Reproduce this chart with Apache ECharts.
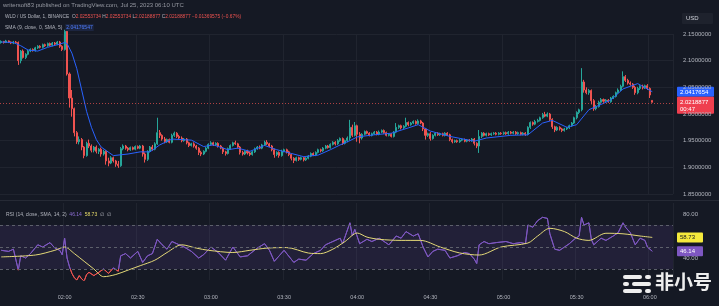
<!DOCTYPE html>
<html><head><meta charset="utf-8">
<script src="https://cdn.jsdelivr.net/npm/echarts@6/dist/echarts.min.js"></script>
<style>html,body{margin:0;padding:0;background:#151924;}#c{width:719px;height:306px;}</style>
</head><body><div id="c"></div>
<script>
// ---- data (1-minute candles, WLD/USD) ----
const startMinute = 94;        // 01:34
const categoryCount = 276;     // 01:34 .. 06:09
const tickLabels = ['02:00','02:30','03:00','03:30','04:00','04:30','05:00','05:30','06:00'];
const priceTicks = [1.85, 2.15, 0.05];
const opens = [
2.134,2.136,2.134,2.137,2.135,2.133,2.135,2.134,2.100,2.118,
2.106,2.112,2.118,2.121,2.119,2.124,2.127,2.125,2.130,2.128,
2.132,2.129,2.133,2.131,2.135,2.127,2.121,2.155,2.075,2.030,
2.010,1.965,1.948,1.952,1.938,1.922,1.945,1.940,1.932,1.938,
1.930,1.934,1.925,1.930,1.912,1.908,1.918,1.912,1.906,1.903,
1.935,1.940,1.936,1.933,1.937,1.934,1.939,1.936,1.940,1.925,
1.915,1.930,1.938,1.934,1.944,1.965,1.960,1.953,1.948,1.952,
1.947,1.960,1.964,1.958,1.955,1.950,1.953,1.946,1.941,1.944,
1.940,1.936,1.928,1.925,1.930,1.936,1.943,1.946,1.942,1.945,
1.940,1.936,1.929,1.926,1.935,1.941,1.946,1.944,1.938,1.928,
1.925,1.930,1.927,1.924,1.929,1.935,1.938,1.936,1.942,1.947,
1.944,1.940,1.933,1.924,1.928,1.922,1.930,1.933,1.929,1.924,
1.917,1.913,1.918,1.915,1.918,1.914,1.917,1.921,1.926,1.923,
1.928,1.933,1.931,1.936,1.940,1.937,1.943,1.947,1.944,1.950,
1.954,1.945,1.950,1.955,1.975,1.960,1.978,1.962,1.955,1.962,
1.967,1.964,1.960,1.963,1.966,1.962,1.966,1.969,1.965,1.960,
1.962,1.958,1.966,1.975,1.978,1.974,1.977,1.984,1.980,1.983,
1.986,1.982,1.987,1.983,1.972,1.960,1.963,1.954,1.960,1.964,
1.961,1.963,1.960,1.964,1.961,1.952,1.948,1.950,1.948,1.951,
1.952,1.949,1.951,1.950,1.953,1.945,1.940,1.958,1.964,1.960,
1.963,1.961,1.963,1.964,1.962,1.964,1.963,1.965,1.963,1.966,
1.964,1.966,1.963,1.965,1.962,1.964,1.962,1.975,1.984,1.981,
1.986,1.988,1.993,1.999,1.996,2.000,1.990,1.976,1.970,1.975,
1.972,1.969,1.972,1.974,1.978,1.983,1.993,2.003,2.008,2.060,
2.045,2.040,2.044,2.025,2.010,2.014,2.022,2.027,2.024,2.026,
2.023,2.030,2.033,2.040,2.045,2.052,2.070,2.063,2.058,2.056,
2.050,2.040,2.048,2.052,2.049,2.053,2.048,2.0255];
const closes = [
2.136,2.134,2.137,2.135,2.133,2.135,2.134,2.100,2.118,2.106,
2.112,2.118,2.121,2.119,2.124,2.127,2.125,2.130,2.128,2.132,
2.129,2.133,2.131,2.135,2.127,2.121,2.155,2.075,2.030,2.010,
1.965,1.948,1.952,1.938,1.922,1.945,1.940,1.932,1.938,1.930,
1.934,1.925,1.930,1.912,1.908,1.918,1.912,1.906,1.903,1.935,
1.940,1.936,1.933,1.937,1.934,1.939,1.936,1.940,1.925,1.915,
1.930,1.938,1.934,1.944,1.965,1.960,1.953,1.948,1.952,1.947,
1.960,1.964,1.958,1.955,1.950,1.953,1.946,1.941,1.944,1.940,
1.936,1.928,1.925,1.930,1.936,1.943,1.946,1.942,1.945,1.940,
1.936,1.929,1.926,1.935,1.941,1.946,1.944,1.938,1.928,1.925,
1.930,1.927,1.924,1.929,1.935,1.938,1.936,1.942,1.947,1.944,
1.940,1.933,1.924,1.928,1.922,1.930,1.933,1.929,1.924,1.917,
1.913,1.918,1.915,1.918,1.914,1.917,1.921,1.926,1.923,1.928,
1.933,1.931,1.936,1.940,1.937,1.943,1.947,1.944,1.950,1.954,
1.945,1.950,1.955,1.975,1.960,1.978,1.962,1.955,1.962,1.967,
1.964,1.960,1.963,1.966,1.962,1.966,1.969,1.965,1.960,1.962,
1.958,1.966,1.975,1.978,1.974,1.977,1.984,1.980,1.983,1.986,
1.982,1.987,1.983,1.972,1.960,1.963,1.954,1.960,1.964,1.961,
1.963,1.960,1.964,1.961,1.952,1.948,1.950,1.948,1.951,1.952,
1.949,1.951,1.950,1.953,1.945,1.940,1.958,1.964,1.960,1.963,
1.961,1.963,1.964,1.962,1.964,1.963,1.965,1.963,1.966,1.964,
1.966,1.963,1.965,1.962,1.964,1.962,1.975,1.984,1.981,1.986,
1.988,1.993,1.999,1.996,2.000,1.990,1.976,1.970,1.975,1.972,
1.969,1.972,1.974,1.978,1.983,1.993,2.003,2.008,2.060,2.045,
2.040,2.044,2.025,2.010,2.014,2.022,2.027,2.024,2.026,2.023,
2.030,2.033,2.040,2.045,2.052,2.070,2.063,2.058,2.056,2.050,
2.040,2.048,2.052,2.049,2.053,2.048,2.0356,2.0219];
const highs = [
2.138,2.137,2.139,2.138,2.136,2.137,2.137,2.136,2.120,2.121,
2.114,2.120,2.123,2.123,2.126,2.129,2.129,2.132,2.132,2.134,
2.134,2.135,2.135,2.137,2.137,2.129,2.158,2.157,2.078,2.045,
2.012,1.968,1.958,1.955,1.940,1.948,1.952,1.943,1.940,1.941,
1.936,1.937,1.933,1.932,1.918,1.921,1.920,1.914,1.912,1.938,
1.943,1.942,1.938,1.939,1.939,1.941,1.941,1.942,1.942,1.928,
1.932,1.940,1.942,1.947,1.993,1.970,1.962,1.957,1.954,1.954,
1.963,1.967,1.966,1.961,1.958,1.955,1.955,1.948,1.946,1.947,
1.942,1.938,1.931,1.932,1.938,1.945,1.949,1.948,1.947,1.947,
1.942,1.938,1.931,1.937,1.943,1.948,1.950,1.946,1.940,1.931,
1.932,1.933,1.930,1.931,1.937,1.940,1.941,1.944,1.950,1.951,
1.946,1.942,1.935,1.930,1.930,1.933,1.935,1.935,1.931,1.926,
1.919,1.920,1.920,1.920,1.920,1.919,1.923,1.928,1.928,1.930,
1.935,1.935,1.938,1.942,1.942,1.945,1.949,1.949,1.953,1.956,
1.956,1.952,1.958,1.989,1.980,1.985,1.980,1.966,1.964,1.969,
1.969,1.966,1.965,1.968,1.968,1.969,1.971,1.971,1.967,1.964,
1.964,1.968,1.983,1.980,1.980,1.979,1.993,1.986,1.985,1.988,
1.988,1.990,1.989,1.985,1.974,1.965,1.966,1.962,1.966,1.966,
1.965,1.965,1.966,1.966,1.963,1.954,1.952,1.952,1.953,1.954,
1.954,1.953,1.953,1.955,1.955,1.947,1.970,1.966,1.966,1.965,
1.965,1.965,1.966,1.966,1.966,1.966,1.967,1.967,1.968,1.968,
1.968,1.968,1.967,1.967,1.966,1.966,1.977,1.986,1.986,1.989,
1.991,1.995,2.002,2.004,2.003,2.002,1.992,1.978,1.977,1.977,
1.974,1.974,1.976,1.980,1.985,1.995,2.005,2.010,2.086,2.064,
2.050,2.047,2.046,2.028,2.017,2.025,2.030,2.029,2.028,2.028,
2.032,2.035,2.042,2.048,2.055,2.080,2.073,2.066,2.061,2.058,
2.053,2.051,2.054,2.055,2.055,2.056,2.050,2.0255];
const lows = [
2.132,2.132,2.133,2.133,2.131,2.131,2.132,2.092,2.095,2.104,
2.103,2.110,2.116,2.117,2.117,2.122,2.123,2.123,2.126,2.126,
2.127,2.127,2.129,2.129,2.124,2.118,2.119,2.072,2.012,1.995,
1.958,1.944,1.943,1.932,1.917,1.920,1.936,1.928,1.928,1.926,
1.925,1.920,1.922,1.905,1.902,1.906,1.909,1.901,1.899,1.901,
1.932,1.933,1.930,1.931,1.932,1.932,1.934,1.934,1.920,1.909,
1.912,1.928,1.931,1.932,1.942,1.955,1.950,1.945,1.946,1.945,
1.945,1.957,1.955,1.952,1.947,1.948,1.943,1.938,1.939,1.937,
1.933,1.923,1.921,1.923,1.928,1.934,1.941,1.940,1.940,1.937,
1.934,1.925,1.922,1.924,1.933,1.939,1.942,1.935,1.924,1.922,
1.923,1.924,1.921,1.922,1.927,1.933,1.934,1.934,1.940,1.942,
1.938,1.930,1.918,1.921,1.918,1.920,1.928,1.926,1.921,1.913,
1.908,1.911,1.912,1.913,1.911,1.912,1.915,1.919,1.921,1.921,
1.926,1.928,1.929,1.934,1.935,1.935,1.941,1.941,1.942,1.948,
1.942,1.943,1.947,1.950,1.957,1.958,1.948,1.945,1.952,1.960,
1.962,1.958,1.958,1.961,1.960,1.960,1.964,1.963,1.958,1.958,
1.956,1.956,1.964,1.972,1.971,1.972,1.975,1.977,1.978,1.981,
1.980,1.980,1.981,1.968,1.952,1.957,1.950,1.952,1.958,1.959,
1.959,1.958,1.958,1.959,1.949,1.945,1.946,1.946,1.946,1.949,
1.947,1.947,1.948,1.948,1.941,1.936,1.927,1.955,1.958,1.958,
1.959,1.959,1.961,1.960,1.960,1.961,1.961,1.961,1.961,1.962,
1.962,1.961,1.961,1.960,1.960,1.959,1.960,1.972,1.978,1.979,
1.984,1.986,1.991,1.994,1.994,1.987,1.972,1.966,1.968,1.969,
1.966,1.967,1.970,1.972,1.976,1.981,1.990,2.000,2.005,2.040,
2.037,2.036,2.018,2.006,2.007,2.012,2.020,2.021,2.022,2.021,
2.021,2.028,2.031,2.038,2.043,2.050,2.060,2.055,2.053,2.047,
2.036,2.037,2.045,2.046,2.047,2.045,2.030,2.0219];
// SMA(9) line: [candle index, value]
const smaPoints = [[0,2.135],[5,2.134],[8,2.128],[11,2.120],[15,2.118],[19,2.125],[24,2.131],[26,2.134],[27,2.132],[29,2.114],[31,2.085],[33,2.045],[35,2.005],[37,1.975],[39,1.952],[41,1.938],[46,1.922],[52,1.925],[57,1.929],[61,1.929],[65,1.942],[70,1.953],[78,1.951],[83,1.939],[87,1.942],[93,1.933],[97,1.936],[102,1.930],[108,1.941],[113,1.933],[119,1.926],[124,1.920],[130,1.923],[135,1.933],[139,1.942],[143,1.950],[146,1.957],[153,1.961],[160,1.964],[167,1.974],[171,1.980],[176,1.968],[184,1.958],[194,1.949],[199,1.955],[209,1.960],[216,1.961],[222,1.983],[226,1.988],[232,1.975],[236,1.980],[241,2.008],[246,2.018],[250,2.026],[255,2.047],[261,2.057],[267,2.0418]];
// RSI(14) line: [candle index, value]
const rsiPoints = [[0,47],[3,46],[5,48],[7,29],[8,42],[10,40],[12,44],[15,52],[17,50],[20,54],[22,49],[24,47],[25,43],[26,58],[27,40],[28,32],[29,26],[30,22],[31,20],[32,24],[33,21],[34,19],[35,25],[36,27],[38,24],[40,27],[42,30],[44,26],[46,31],[48,28],[49,42],[51,44],[53,40],[56,46],[58,36],[60,42],[62,44],[64,57],[66,52],[68,48],[70,55],[72,53],[75,50],[78,46],[81,40],[83,43],[86,50],[89,45],[92,38],[95,50],[98,41],[101,42],[105,49],[108,53],[110,47],[112,37],[114,42],[116,47],[120,36],[122,39],[125,38],[128,44],[131,47],[133,52],[136,55],[139,58],[140,53],[143,72],[144,60],[145,66],[147,53],[150,57],[152,55],[155,58],[159,52],[162,60],[164,58],[166,64],[169,60],[171,62],[173,50],[175,41],[177,46],[179,48],[182,47],[184,40],[187,42],[190,45],[192,44],[194,39],[195,35],[196,52],[198,55],[200,53],[203,54],[207,55],[210,53],[213,54],[215,53],[216,70],[218,68],[220,74],[222,77],[224,76],[225,62],[227,48],[229,47],[231,50],[233,53],[235,57],[237,60],[238,77],[239,70],[241,72],[242,57],[243,52],[246,58],[248,56],[251,60],[253,63],[255,72],[256,68],[258,63],[260,52],[262,58],[264,56],[265,50],[267,46.14]];
// RSI-based MA line: [candle index, value]
const rsiMaPoints = [[0,41],[14,42.7],[22,47],[26,50],[30,44],[34,37],[38,30],[42,23],[47,25],[52,29],[57,33],[63,38],[68,45],[74,52],[80,49],[85,47],[95,45],[102,47],[109,49],[117,49.5],[126,44.5],[131,44],[136,48],[141,55],[146,62.7],[150,59],[155,57],[164,56],[172,56],[180,50],[188,44.6],[196,42.7],[205,50],[216,53.6],[220,60],[225,67],[231,64],[236,58],[241,56],[248,62.5],[255,62],[262,60],[267,58.73]];
const rsiBands = [70, 50, 30];
const lastClose = 2.0218877, lastSma = 2.0417654, lastRsi = 46.14, lastRsiMa = 58.73;

// ---- build ----
const categories = [];
for (let k = 0; k < categoryCount; k++) {
  const m = startMinute + k;
  categories.push(String(Math.floor(m / 60)).padStart(2, '0') + ':' + String(m % 60).padStart(2, '0'));
}
const candles = opens.map((o, i) => [o, closes[i], lows[i], highs[i]]);
const isTick = (idx, val) => tickLabels.indexOf(val) >= 0;
const FONT = 'Liberation Sans, Arial, sans-serif';
const gridCol = '#20242f';
const axisText = '#b2b5be';

const chart = echarts.init(document.getElementById('c'), null, {renderer: 'canvas'});
chart.setOption({
  animation: false,
  backgroundColor: '#151924',
  grid: [
    {left: -1, right: 46, top: 34, height: 160},
    {left: -1, right: 46, top: 203, height: 77}
  ],
  xAxis: [
    {type: 'category', gridIndex: 0, data: categories, boundaryGap: true,
     axisLine: {show: false}, axisTick: {show: false}, axisLabel: {show: false},
     splitLine: {show: true, interval: isTick, lineStyle: {color: gridCol, width: 1}}},
    {type: 'category', gridIndex: 1, data: categories, boundaryGap: true,
     axisLine: {show: false}, axisTick: {show: false},
     axisLabel: {show: true, interval: isTick, color: axisText, fontSize: 5.5, fontFamily: FONT, margin: 14},
     splitLine: {show: true, interval: isTick, lineStyle: {color: gridCol, width: 1}}}
  ],
  yAxis: [
    {type: 'value', gridIndex: 0, position: 'right', min: priceTicks[0], max: priceTicks[1], interval: priceTicks[2],
     axisLine: {show: false}, axisTick: {show: false},
     axisLabel: {color: axisText, fontSize: 6, fontFamily: FONT, margin: 10, formatter: v => v.toFixed(7)},
     splitLine: {show: true, lineStyle: {color: gridCol, width: 1}}},
    {type: 'value', gridIndex: 1, position: 'right', min: 20, max: 90, interval: 20,
     axisLine: {show: false}, axisTick: {show: false},
     axisLabel: {color: axisText, fontSize: 6, fontFamily: FONT, margin: 10, showMaxLabel: false,
       formatter: v => (v === 80 || v === 40) ? v.toFixed(2) : ''},
     splitLine: {show: false}}
  ],
  series: [
    {type: 'candlestick', xAxisIndex: 0, yAxisIndex: 0, data: candles, clip: false, barWidth: '62%',
     itemStyle: {color: '#26a69a', color0: '#ef5350', borderColor: '#26a69a', borderColor0: '#ef5350', borderWidth: 1},
     markLine: {silent: true, symbol: 'none', label: {show: false},
       lineStyle: {color: 'rgba(239,83,80,0.7)', type: [1, 2], width: 1},
       data: [{yAxis: lastClose}]}},
    {type: 'line', xAxisIndex: 0, yAxisIndex: 0, data: smaPoints, symbol: 'none', clip: false,
     lineStyle: {color: '#2962ff', width: 1}},
    {type: 'line', xAxisIndex: 1, yAxisIndex: 1, data: rsiPoints, symbol: 'none', z: 3,
     lineStyle: {width: 1, color: '#7e57c2'},
     markArea: {silent: true, itemStyle: {color: 'rgba(126,87,194,0.13)'}, data: [[{yAxis: 30}, {yAxis: 70}]]},
     markLine: {silent: true, symbol: 'none', label: {show: false},
       lineStyle: {color: '#5d606b', type: [3, 3], width: 1},
       data: rsiBands.map(v => ({yAxis: v}))}},
    {type: 'line', xAxisIndex: 1, yAxisIndex: 1, data: rsiMaPoints, symbol: 'none', z: 4, smooth: 0.3,
     lineStyle: {color: '#e3d877', width: 1}}
  ]
});

// value boxes placed through the axes' own scales
const yP = v => chart.convertToPixel({yAxisIndex: 0}, v);
const yR = v => chart.convertToPixel({yAxisIndex: 1}, v);
// RSI line turns red below the oversold level (30)
const y30 = yR(30);
chart.setOption({series: [{}, {}, {lineStyle: {color: {type: 'linear', global: true, x: 0, y: y30 - 0.5, x2: 0, y2: y30 + 0.5,
  colorStops: [{offset: 0, color: '#7e57c2'}, {offset: 1, color: '#ef5350'}]}}}, {}]});

const box = (x, yc, w, h, fill, lines, tfill, yShift) => ({
  type: 'group', z: 50, children: [
    {type: 'rect', shape: {x: x, y: yc - h / 2 + (yShift || 0), width: w, height: h, r: 1}, style: {fill: fill}},
    {type: 'text', style: {x: x + 3, y: yc - h / 2 + (yShift || 0) + 1.5, text: lines, fill: tfill, fontSize: 6, fontFamily: FONT, lineHeight: 7.5}}
  ]
});
const g = [];
// header
g.push({type: 'text', left: 3, top: 2, z: 60, style: {text: 'writersoft83 published on TradingView.com, Jul 25, 2023 06:10 UTC', fill: '#9598a1', fontSize: 6, fontFamily: FONT}});
g.push({type: 'text', left: 5, top: 14, z: 60, style: {
  text: '{g|WLD / US Dollar, 1, BINANCE  }{g|O}{r|2.02553734 }{g|H}{r|2.02553734 }{g|L}{r|2.02188877 }{g|C}{r|2.02188877 }{r|−0.01369575 (−0.67%)}',
  fontSize: 4.8, fontFamily: FONT,
  rich: {g: {fill: '#b2b5be', fontSize: 4.8, fontFamily: FONT}, r: {fill: '#ef5350', fontSize: 4.8, fontFamily: FONT}}}});
g.push({type: 'text', left: 5, top: 24, z: 60, style: {
  text: '{g|SMA (9, close, 0, SMA, 5)  }{b|2.04176547}',
  fontSize: 5, fontFamily: FONT,
  rich: {g: {fill: '#b2b5be', fontSize: 5, fontFamily: FONT}, b: {fill: '#4f7dff', fontSize: 5, fontFamily: FONT, backgroundColor: '#1c2540', padding: [1, 1]}}}});
g.push({type: 'text', left: 6, top: 212, z: 60, style: {
  text: '{g|RSI (14, close, SMA, 14, 2)  }{p|46.14}{g|  }{y|58.73}{g|  ∅  ∅}',
  fontSize: 5, fontFamily: FONT,
  rich: {g: {fill: '#b2b5be', fontSize: 5, fontFamily: FONT}, p: {fill: '#8e6fd6', fontSize: 5, fontFamily: FONT}, y: {fill: '#e8dc6a', fontSize: 5, fontFamily: FONT}}}});
// USD box
g.push({type: 'group', z: 50, children: [
  {type: 'rect', shape: {x: 682, y: 13, width: 31, height: 11, r: 1}, style: {fill: '#1e222d'}},
  {type: 'text', style: {x: 686, y: 15.5, text: 'USD', fill: '#d1d4dc', fontSize: 6, fontFamily: FONT}}
]});
// price boxes
g.push(box(677, yP(lastSma), 37, 10, '#2962ff', lastSma.toFixed(7), '#ffffff', 0));
g.push(box(677, yP(lastClose), 37, 17, '#ef3f4f', lastClose.toFixed(7) + '\n00:47', '#ffffff', 3));
g.push(box(677, yR(lastRsiMa), 26, 10, '#f5ea3c', lastRsiMa.toFixed(2), '#131722', 0));
g.push(box(677, yR(lastRsi), 26, 10, '#7e57c2', lastRsi.toFixed(2), '#ffffff', 0));
// pane separator
g.push({type: 'rect', z: 40, shape: {x: 0, y: 200, width: 719, height: 1}, style: {fill: '#262a35'}});
// watermark logo
const wm = '#eeeeee';
const bars = [[623,275,19,4],[645,275,6,4],[623,282,6,4],[632,282,19,4],[623,289,19,4],[645,289,6,4]];
g.push({type: 'group', z: 70, children: bars.map(b => ({type: 'rect', shape: {x: b[0], y: b[1], width: b[2], height: b[3], r: 2}, style: {fill: wm}}))});
g.push({type: 'text', z: 70, left: 655, top: 272, style: {text: '非小号', fill: wm, fontSize: 19, fontWeight: 'bold', fontFamily: 'Noto Sans CJK SC'}});
chart.setOption({graphic: g});
</script>
</body></html>
